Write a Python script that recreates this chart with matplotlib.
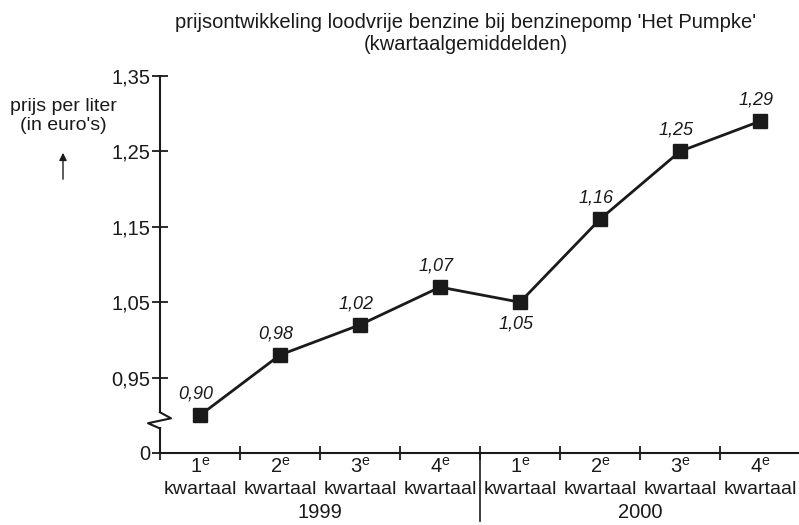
import matplotlib
matplotlib.use("Agg")
import matplotlib.pyplot as plt
from matplotlib.transforms import blended_transform_factory

plt.rcParams['font.family'] = ['Liberation Sans', 'DejaVu Sans']
plt.rcParams['mathtext.fontset'] = 'custom'
plt.rcParams['mathtext.rm'] = 'Liberation Sans'
plt.rcParams['mathtext.it'] = 'Liberation Sans:italic'

# ---- data ----
quarters = ['1', '2', '3', '4', '1', '2', '3', '4']
years = ['1999', '2000']
prices = [0.90, 0.98, 1.02, 1.07, 1.05, 1.16, 1.25, 1.29]
price_labels = ['0,90', '0,98', '1,02', '1,07', '1,05', '1,16', '1,25', '1,29']
label_below = [False, False, False, False, True, False, False, False]
ytick_values = [0.85, 0.95, 1.05, 1.15, 1.25, 1.35]
ytick_labels = ['0', '0,95', '1,05', '1,15', '1,25', '1,35']

C = '#1a1a1a'
fig = plt.figure(figsize=(7.99, 5.25), dpi=100)
ax = fig.add_axes([160/799, 72/525, 640/799, (453-76)/525])

x = [i + 0.5 for i in range(len(prices))]
ax.plot(x, prices, color=C, lw=2, marker='s', ms=10, mfc=C, mec=C, clip_on=False)

for xi, p, lab, below in zip(x, prices, price_labels, label_below):
    off = (-4, -22) if below else (-4, 21)
    ax.annotate(lab, (xi, p), xytext=off, textcoords='offset pixels', ha='center', va='center',
                fontsize=13, style='italic', color=C)

ax.set_xlim(0, 8)
ax.set_ylim(0.85, 1.35)
ax.set_yticks(ytick_values)
ax.set_yticklabels(ytick_labels)
ax.set_xticks(range(9))
ax.set_xticklabels([])
ax.tick_params(axis='y', direction='inout', length=12, width=1.3, labelsize=14.5, pad=1, colors=C)
ax.tick_params(axis='x', direction='inout', length=10, width=1.3, colors=C)

for s in ['top', 'right', 'left']:
    ax.spines[s].set_visible(False)
ax.spines['bottom'].set_linewidth(1.5)
ax.spines['bottom'].set_color(C)
ax.spines['bottom'].set_clip_on(False)

# broken y-axis drawn manually
tr = blended_transform_factory(ax.transAxes, ax.transData)
yb0, yb1 = 0.904, 0.8825
ax.plot([0, 0], [0.85, yb1], transform=tr, color=C, lw=1.5, clip_on=False)
ax.plot([0, 0], [yb0, 1.35], transform=tr, color=C, lw=1.5, clip_on=False)
ax.plot([0, 11/640, -12/640, 0], [yb0, 0.896, 0.8895, yb1], transform=tr,
        color=C, lw=1.5, clip_on=False)

# x category labels
trx = blended_transform_factory(ax.transData, fig.transFigure)
for xi, q in zip(x, quarters):
    fig.text(xi, 1 - 467/525, q + r'$^{\rm e}$', transform=trx, ha='center', va='center', fontsize=14.5, color=C)
    fig.text(xi, 1 - 489/525, 'kwartaal', transform=trx, ha='center', va='center', fontsize=14, color=C)
for i, yr in enumerate(years):
    fig.text(2 + 4*i, 1 - 512/525, yr, transform=trx, ha='center', va='center', fontsize=14.5, color=C)
fig.add_artist(plt.Line2D([480/799, 480/799], [1 - 453/525, 1 - 521/525], color=C, lw=1.2))

# y label and arrow
fig.text(63/799, 1 - 116/525, "prijs per liter\n(in euro's)", ha='center', va='center', fontsize=14,
         color=C, linespacing=1.1)
fig.add_artist(matplotlib.patches.FancyArrowPatch((63/799, 1 - 182/525), (63/799, 1 - 150/525),
               transform=fig.transFigure, arrowstyle='-|>', mutation_scale=11, lw=1, color=C))

# title
fig.text(466/799, 1 - 34/525, "prijsontwikkeling loodvrije benzine bij benzinepomp 'Het Pumpke'\n(kwartaalgemiddelden)",
         ha='center', va='center', fontsize=14.5, color=C, linespacing=1.2)

fig.savefig('out.png', dpi=100)
